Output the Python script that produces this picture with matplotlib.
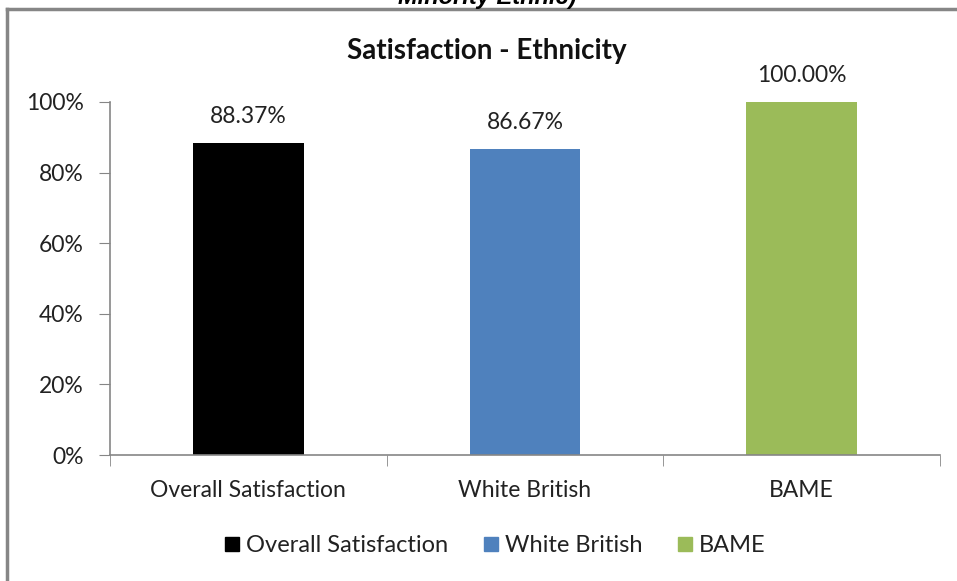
import matplotlib
matplotlib.use('Agg')
import matplotlib.pyplot as plt
from matplotlib.lines import Line2D
from matplotlib.ticker import FuncFormatter, FixedLocator

categories = ['Overall Satisfaction', 'White British', 'BAME']
values = [88.37, 86.67, 100.00]
colors = ['#000000', '#4F81BD', '#9BBB59']
yticks = [0, 20, 40, 60, 80, 100]

plt.rcParams['font.family'] = ['Lato', 'DejaVu Sans']
grey = '#868686'
txt = '#222222'

fig = plt.figure(figsize=(9.57, 5.81), dpi=100, facecolor='white')
ax = fig.add_axes([110/957, 1-455/581, 830/957, 353/581])

x = list(range(len(categories)))
ax.bar(x, values, width=0.4, color=colors, zorder=2)
for xi, v in zip(x, values):
    ax.text(xi, v + 4.5, '%.2f%%' % v, ha='center', va='bottom', fontsize=16.5, color=txt)

ax.set_xlim(-0.5, 2.5)
ax.set_ylim(0, 100)
ax.set_yticks(yticks)
ax.yaxis.set_major_formatter(FuncFormatter(lambda v, p: '%d%%' % v))
ax.set_xticks(x)
ax.set_xticklabels(categories)
ax.xaxis.set_minor_locator(FixedLocator([-0.5, 0.5, 1.5, 2.5]))
ax.tick_params(axis='x', which='major', length=0, pad=18, labelsize=16.5, labelcolor=txt)
ax.tick_params(axis='x', which='minor', length=8, color=grey, direction='out')
ax.tick_params(axis='y', length=8, color=grey, labelsize=16.5, labelcolor=txt, pad=11)
for s in ['top', 'right']:
    ax.spines[s].set_visible(False)
for s in ['left', 'bottom']:
    ax.spines[s].set_color(grey)
    ax.spines[s].set_linewidth(1.2)

fig.text(487/957, 1-51/581, 'Satisfaction - Ethnicity', ha='center', va='center',
         fontsize=20, fontweight='bold', color='#111111')

# cut-off caption above the chart frame
fig.text(487/957, 1-4/581, 'Minority Ethnic)', ha='center', va='baseline',
         fontsize=17, fontweight='bold', fontstyle='italic',
         family=['Liberation Sans', 'DejaVu Sans'])

handles = [Line2D([], [], marker='s', linestyle='', markersize=10, color=c) for c in colors]
fig.legend(handles, categories, loc='center', bbox_to_anchor=(492/957, 1-546/581), ncol=3,
           frameon=False, fontsize=17, handletextpad=0.0, columnspacing=1.2,
           handlelength=1.2, labelcolor=txt)

# chart frame
fig.add_artist(Line2D([7/957, 7/957], [0, 1-9/581], color=grey, linewidth=2.5,
                      transform=fig.transFigure))
fig.add_artist(Line2D([7/957, 1], [1-9/581, 1-9/581], color=grey, linewidth=2.5,
                      transform=fig.transFigure))

fig.savefig('out.png', dpi=100, facecolor='white')
